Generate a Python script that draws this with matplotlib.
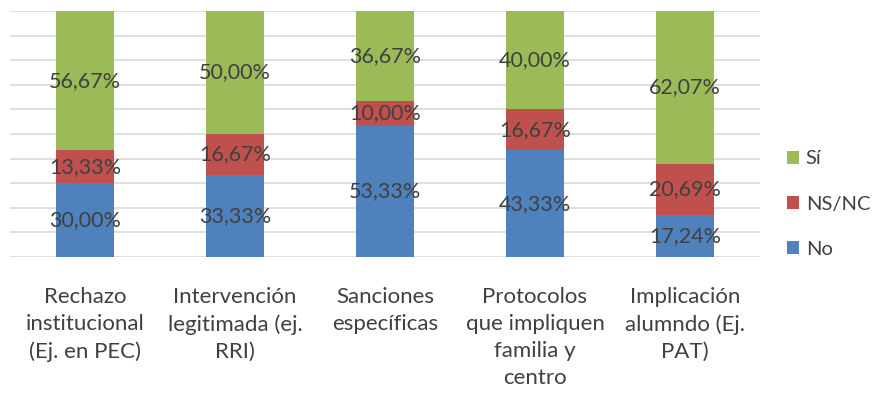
import numpy as np
import matplotlib
matplotlib.use("Agg")
import matplotlib.pyplot as plt

# ── data ──────────────────────────────────────────────
categories = [
    "Rechazo\ninstitucional\n(Ej. en PEC)",
    "Intervención\nlegitimada (ej.\nRRI)",
    "Sanciones\nespecíficas",
    "Protocolos\nque impliquen\nfamilia y\ncentro",
    "Implicación\nalumndo (Ej.\nPAT)",
]
no_vals   = [30.00, 33.33, 53.33, 43.33, 17.24]
nsnc_vals = [13.33, 16.67, 10.00, 16.67, 20.69]
si_vals   = [56.67, 50.00, 36.67, 40.00, 62.07]

series = [("No", no_vals, "#4F81BD"),
          ("NS/NC", nsnc_vals, "#C0504D"),
          ("Sí", si_vals, "#9BBB59")]

TEXT = "#404040"
plt.rcParams["font.family"] = ["Lato", "DejaVu Sans"]

fig = plt.figure(figsize=(8.72, 3.94), dpi=100)
ax = fig.add_axes([0.0115, 0.3477, 0.86, 0.6243])

x = np.arange(len(categories))
bottom = np.zeros(len(categories))
handles = []
for name, vals, color in series:
    vals = np.array(vals)
    b = ax.bar(x, vals, width=0.39, bottom=bottom, color=color, label=name, zorder=2)
    handles.append(b)
    for xi, v, bt in zip(x, vals, bottom):
        ax.text(xi, bt + v / 2, f"{v:.2f}%".replace(".", ","),
                ha="center", va="center", fontsize=15.5, color=TEXT, zorder=3)
    bottom += vals

ax.set_xlim(-0.5, len(categories) - 0.5)
ax.set_ylim(0, 100)
ax.set_yticks(np.arange(0, 101, 10))
ax.yaxis.grid(True, color="#D9D9D9", linewidth=1.2, zorder=0)
ax.tick_params(axis="y", left=False, labelleft=False)
ax.tick_params(axis="x", bottom=False, pad=18)
ax.set_xticks(x)
ax.set_xticklabels(categories, fontsize=16, color=TEXT, linespacing=1.45, va="top")
for s in ax.spines.values():
    s.set_visible(False)

leg = fig.legend(handles=handles[::-1], labels=[h.get_label() for h in handles[::-1]],
                 loc="center left", bbox_to_anchor=(0.902, 0.482), frameon=False,
                 fontsize=14.5, handlelength=0.6, handleheight=0.6, handletextpad=0.35,
                 labelspacing=1.4, borderaxespad=0, borderpad=0)
for t in leg.get_texts():
    t.set_color(TEXT)

fig.savefig("out.png", dpi=100)
